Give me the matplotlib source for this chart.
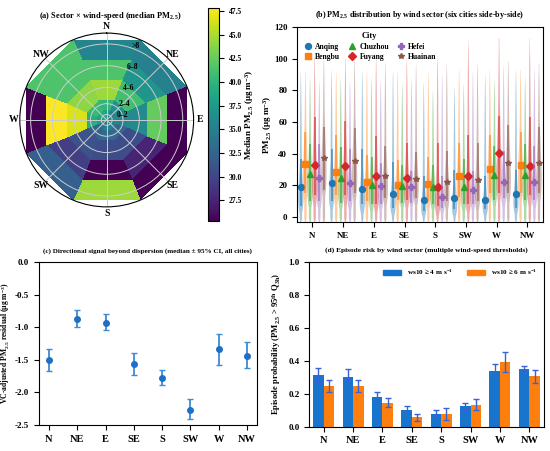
import numpy as np
import matplotlib
matplotlib.use('Agg')
import matplotlib.pyplot as plt
from matplotlib.patches import Patch
from matplotlib.ticker import MultipleLocator
from matplotlib.transforms import offset_copy

plt.rcParams['font.family'] = 'Liberation Serif'
plt.rcParams['font.weight'] = 'bold'
plt.rcParams['axes.titleweight'] = 'bold'
plt.rcParams['axes.labelweight'] = 'bold'
plt.rcParams['axes.unicode_minus'] = False
plt.rcParams['mathtext.fontset'] = 'custom'
plt.rcParams['mathtext.rm'] = 'Liberation Serif:bold'
plt.rcParams['mathtext.it'] = 'Liberation Serif:bold'
plt.rcParams['mathtext.bf'] = 'Liberation Serif:bold'
plt.rcParams['mathtext.default'] = 'regular'

sectors = ['N', 'NE', 'E', 'SE', 'S', 'SW', 'W', 'NW']
speed_bins = ['0–2', '2–4', '4–6', '6–8', '>8']

# (a) median PM2.5, rows = speed bins, cols = sectors
med_0_2 = [38.0, 35.0, 36.0, 35.0, 35.5, 34.0, 38.0, 39.0]
med_2_4 = [40.0, 36.5, 35.5, 33.0, 33.0, 32.5, 39.5, 40.5]
med_4_6 = [44.5, 41.0, 36.0, 30.5, 30.5, 31.0, 46.5, 44.0]
med_6_8 = [41.5, 37.0, 42.5, 27.5, 25.3, 29.5, 47.8, 41.5]
med_gt8 = [35.5, 35.0, 25.3, 25.3, 44.5, 32.0, 25.3, 41.5]

# (b) per-city PM2.5 distribution by sector
cities = ['Anqing', 'Bengbu', 'Chuzhou', 'Fuyang', 'Hefei', 'Huainan']
pm_median = {
    'Anqing': [19, 21.5, 18, 14.5, 11, 12, 11, 14.5],
    'Bengbu': [33.5, 28.5, 22.5, 20.5, 21, 26, 30.5, 33],
    'Chuzhou': [27, 25, 20, 19.5, 19, 19, 26.5, 26.5],
    'Fuyang': [33, 32, 26, 25, 19, 26, 40.5, 32.5],
    'Hefei': [24.5, 21.5, 19.5, 19, 13, 17, 22.5, 22.5],
    'Huainan': [37.5, 35.5, 26, 24, 22, 23.5, 34, 34],
}
pm_lo = {
    'Anqing': [7, 10, 8, 6, 4, 5, 5, 6],
    'Bengbu': [15, 14, 10, 11, 10, 13, 15, 15],
    'Chuzhou': [10, 9, 8, 9, 8, 8, 11, 11],
    'Fuyang': [14, 14, 8, 11, 7, 8, 15, 14],
    'Hefei': [10, 10, 8, 9, 6, 8, 12, 11],
    'Huainan': [17, 15, 12, 12, 10, 10, 15, 15],
}
pm_hi = {
    'Anqing': [37, 43, 43, 35, 26, 30, 26, 30],
    'Bengbu': [54, 52, 39, 36, 38, 47, 52, 54],
    'Chuzhou': [46, 44, 38, 33, 33, 37, 45, 46],
    'Fuyang': [63, 61, 51, 47, 47, 52, 64, 63],
    'Hefei': [46, 43, 34, 29, 26, 29, 42, 45],
    'Huainan': [57, 56, 45, 41, 42, 47, 58, 57],
}
pm_top = {
    'Anqing': [92, 93, 92, 92, 85, 82, 90, 93],
    'Bengbu': [92, 92, 93, 93, 92, 94, 93, 93],
    'Chuzhou': [87, 87, 88, 84, 80, 84, 86, 88],
    'Fuyang': [101, 100, 101, 101, 102, 112, 113, 113],
    'Hefei': [86, 86, 87, 88, 90, 92, 96, 94],
    'Huainan': [100, 99, 98, 97, 97, 97, 98, 97],
}
city_colors = ['#1f77b4', '#ff7f0e', '#2ca02c', '#d62728', '#9467bd', '#8c564b']
city_markers = ['o', 's', '^', 'D', 'P', '*']

# (c) VC-adjusted residual, median and 95% CI
resid_med = [-1.50, -0.87, -0.93, -1.57, -1.78, -2.27, -1.34, -1.44]
resid_lo = [-1.68, -0.99, -1.05, -1.73, -1.89, -2.41, -1.58, -1.63]
resid_hi = [-1.33, -0.74, -0.80, -1.39, -1.66, -2.11, -1.11, -1.23]

# (d) episode probability
p_ws4 = [0.31, 0.30, 0.18, 0.10, 0.077, 0.123, 0.34, 0.347]
p_ws4_lo = [0.27, 0.263, 0.158, 0.081, 0.06, 0.10, 0.313, 0.323]
p_ws4_hi = [0.353, 0.347, 0.212, 0.125, 0.099, 0.145, 0.378, 0.37]
p_ws6 = [0.246, 0.246, 0.143, 0.058, 0.077, 0.129, 0.39, 0.305]
p_ws6_lo = [0.212, 0.212, 0.121, 0.036, 0.042, 0.10, 0.333, 0.263]
p_ws6_hi = [0.283, 0.283, 0.172, 0.079, 0.11, 0.167, 0.455, 0.343]

fig = plt.figure(figsize=(5.5, 4.51), dpi=100)

# ---------------- (a) polar heatmap
ax1 = fig.add_axes([0.036, 0.541, 0.316, 0.386], projection='polar')
ax1.set_theta_zero_location('N')
ax1.set_theta_direction(-1)
theta_edges = np.deg2rad(np.arange(-22.5, 360, 45))
r_edges = np.array([0, 1, 2, 4, 6, 8])
r_mid = (r_edges[:-1] + r_edges[1:]) / 2
Z = np.array([med_0_2, med_2_4, med_4_6, med_6_8, med_gt8])
mesh = ax1.pcolormesh(theta_edges, r_edges, Z, cmap='viridis', shading='flat')
ax1.set_ylim(0, 8)
ax1.set_xticks(np.deg2rad(np.arange(0, 360, 45)))
ax1.set_xticklabels(sectors, fontsize=7)
ax1.set_yticks(r_mid)
ax1.set_yticklabels([])
ax1.tick_params(axis='x', pad=-6)
ax1.grid(color='#cccccc', lw=0.7)
lab_tr = offset_copy(ax1.transData, fig=fig, x=9, y=0, units='dots')
for r, lab in zip(r_mid, speed_bins):
    ax1.text(np.deg2rad(12), r, lab, transform=lab_tr, fontsize=5.5,
             ha='left', va='center')
fig.text(0.2, 1 - 16 / 451, '(a) Sector × wind-speed (median PM$_{2.5}$)',
         fontsize=6.0, fontweight='bold', ha='center', va='center')

cax = fig.add_axes([0.378, 0.51, 0.02, 0.472])
cb = fig.colorbar(mesh, cax=cax)
cb.ax.yaxis.set_major_locator(MultipleLocator(2.5))
cb.ax.tick_params(labelsize=5.5)
cb.set_label('Median PM$_{2.5}$ (μg m$^{-3}$)', fontsize=6.5, labelpad=1)

# ---------------- (b) violins
ax2 = fig.add_axes([0.54, 0.508, 0.447, 0.432])
offset = 0.15
x = np.arange(len(sectors))


def violin_stats(med, lo, hi, top):
    shift = 6.0
    mu = np.log(med + shift)
    sig = 1.25 * np.log((hi + shift) / (lo + shift)) / 2.56
    y = np.linspace(-3.5, top, 250)
    z = np.clip(y + shift, 0.5, None)
    dens = np.exp(-(np.log(z) - mu) ** 2 / (2 * sig ** 2)) / z
    dens = dens / dens.max()
    tail = 0.45 * np.clip((top - y) / (top - med), 0, 1) ** 0.6
    dens = np.maximum(dens, tail)
    dens = dens * np.clip((y + 3.5) / 3.0, 0, 1) ** 0.5
    return dict(coords=y, vals=dens, mean=med, median=med, min=-3.5, max=top)


for j, city in enumerate(cities):
    pos = x + (j - 2.5) * offset
    stats = [violin_stats(pm_median[city][i], pm_lo[city][i], pm_hi[city][i], pm_top[city][i])
             for i in range(len(sectors))]
    parts = ax2.violin(stats, positions=pos, widths=0.17, showextrema=False)
    for b in parts['bodies']:
        b.set_facecolor(city_colors[j])
        b.set_edgecolor('none')
        b.set_alpha(0.4)
    ax2.vlines(pos, pm_lo[city], pm_hi[city], color=city_colors[j], lw=1.1, alpha=0.75)
    ax2.plot(pos, pm_median[city], linestyle='none', marker=city_markers[j],
             color=city_colors[j], ms=4.3, label=city)

ax2.set_xlim(-0.5, 7.5)
ax2.set_ylim(-3, 120)
ax2.set_xticks(x)
ax2.set_xticklabels(sectors, fontsize=6.5)
ax2.tick_params(axis='y', labelsize=6.5)
ax2.set_ylabel('PM$_{2.5}$ (μg m$^{-3}$)', fontsize=6.5, labelpad=0)
ax2.set_title('(b) PM$_{2.5}$ distribution by wind sector (six cities side-by-side)',
              fontsize=5.9, pad=7)
ax2.legend(title='City', ncol=3, loc='upper left', frameon=False, fontsize=5.5,
           title_fontsize=6, handletextpad=0.2, columnspacing=0.8, borderaxespad=0.3,
           labelspacing=0.3, handlelength=1.5)

# ---------------- (c) errorbar
ax3 = fig.add_axes([0.071, 0.058, 0.396, 0.361])
rm = np.array(resid_med)
ax3.errorbar(x, rm, yerr=[rm - np.array(resid_lo), np.array(resid_hi) - rm], fmt='o',
             color='#1f6fc5', ecolor='#3d8bd6', elinewidth=1.3, capsize=2, ms=4)
ax3.axhline(0, color='#3d8bd6', lw=1.2)
ax3.set_ylim(-2.5, 0.0)
ax3.set_xticks(x)
ax3.set_xticklabels(sectors, fontsize=7.5)
ax3.tick_params(axis='y', labelsize=6.5)
ax3.set_ylabel('VC-adjusted PM$_{2.5}$ residual (μg m$^{-3}$)', fontsize=5.5, labelpad=2)
ax3.set_title('(c) Directional signal beyond dispersion (median ± 95% CI, all cities)',
              fontsize=5.1, pad=7)

# ---------------- (d) bars
ax4 = fig.add_axes([0.562, 0.054, 0.427, 0.366])
w = 0.36
a4 = np.array(p_ws4)
a6 = np.array(p_ws6)
ax4.bar(x - w / 2, a4, w, color='#1874cd',
        yerr=[a4 - np.array(p_ws4_lo), np.array(p_ws4_hi) - a4],
        error_kw=dict(ecolor='#3a62d8', elinewidth=1.0, capsize=2))
ax4.bar(x + w / 2, a6, w, color='#ff7f0e',
        yerr=[a6 - np.array(p_ws6_lo), np.array(p_ws6_hi) - a6],
        error_kw=dict(ecolor='#3a62d8', elinewidth=1.0, capsize=2))
ax4.set_xlim(-0.5, 7.5)
ax4.set_ylim(0, 1.0)
ax4.set_xticks(x)
ax4.set_xticklabels(sectors, fontsize=7.5)
ax4.tick_params(axis='y', labelsize=6.5)
ax4.set_ylabel('Episode probability (PM$_{2.5}$ > 95$^{th}$ Q$_{3h}$)', fontsize=6.2)
ax4.set_title('(d) Episode risk by wind sector (multiple wind-speed thresholds)',
              fontsize=5.35, pad=7)
ax4.legend(handles=[Patch(color='#1874cd', label='ws10 ≥ 4 m s$^{-1}$'),
                    Patch(color='#ff7f0e', label='ws10 ≥ 6 m s$^{-1}$')],
           loc='upper right', ncol=2, frameon=False, fontsize=5.2, handlelength=2.5)

fig.savefig('out.png', dpi=100)
